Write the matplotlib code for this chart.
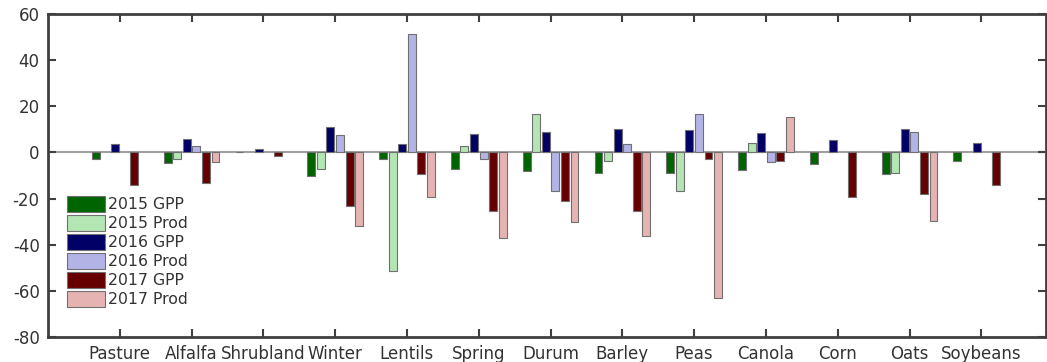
import numpy as np
import matplotlib.pyplot as plt

plt.rcParams['axes.unicode_minus'] = False

crops = ['Pasture', 'Alfalfa', 'Shrubland', 'Winter', 'Lentils', 'Spring',
         'Durum', 'Barley', 'Peas', 'Canola', 'Corn', 'Oats', 'Soybeans']

nan = np.nan
# missing bars (no data for that crop) are left as nan
gpp_2015  = [-2.9, -4.6, 0.3, -10.1, -2.9, -7.2, -8.2, -9.1, -8.7, -7.5, -4.9, -9.2, -3.5]
prod_2015 = [nan, -2.9, nan, -7.2, -51.6, 3.0, 16.8, -3.8, -16.6, 4.3, nan, -8.8, nan]
gpp_2016  = [3.8, 5.8, 1.6, 11.0, 3.6, 7.8, 9.0, 10.0, 9.7, 8.5, 5.6, 10.3, 4.2]
prod_2016 = [nan, 3.0, nan, 7.4, 51.3, -3.0, -16.8, 3.6, 16.5, -4.3, nan, 8.8, nan]
gpp_2017  = [-14.3, -13.2, -1.4, -23.4, -9.4, -25.6, -21.1, -25.6, -2.7, -3.9, -19.4, -18.2, -14.2]
prod_2017 = [nan, -4.0, nan, -32.0, -19.5, -37.3, -30.1, -36.1, -63.2, 15.3, nan, -29.8, nan]

series = [gpp_2015, prod_2015, gpp_2016, prod_2016, gpp_2017, prod_2017]
names = ['2015 GPP', '2015 Prod', '2016 GPP', '2016 Prod', '2017 GPP', '2017 Prod']
colors = ['#006400', '#b3e6b3', '#000066', '#b3b3e6', '#660000', '#e6b3b3']

x = np.arange(1, len(crops) + 1)
step = 0.8 / 6

fig = plt.figure(figsize=(10.47, 3.62), dpi=100)
ax = fig.add_axes([48/1047, 25/362, 998/1047, 323/362])

ax.axhline(0, color='#a0a0a0', lw=1.5, zorder=1)
for i, (vals, nm, c) in enumerate(zip(series, names, colors)):
    ax.bar(x + (i - 2.5) * step, vals, width=0.11, color=c, edgecolor='#707070',
           linewidth=0.8, label=nm, zorder=2)

ax.set_xlim(0, 13.9)
ax.set_ylim(-80, 60)
ax.set_yticks(np.arange(-80, 61, 20))
ax.set_xticks(x)
ax.set_xticklabels(crops)
ax.tick_params(direction='in', length=6, width=1.5, color='#404040',
               top=True, right=True, labelsize=12, labelcolor='#333333', pad=6)
for s in ax.spines.values():
    s.set_linewidth(2)
    s.set_color('#404040')

leg = ax.legend(loc='upper left', bbox_to_anchor=(0.013, 0.455), frameon=False,
                fontsize=11.3, handlelength=2.4, handleheight=1.15, labelspacing=0.18,
                handletextpad=0.2, borderaxespad=0)
for t in leg.get_texts():
    t.set_color('#333333')

fig.savefig('out.png', dpi=100)
